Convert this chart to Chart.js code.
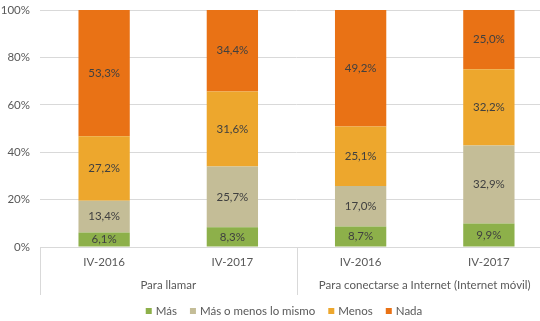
<!DOCTYPE html>
<html lang="es">
<head>
  <meta charset="UTF-8" />
  <title>Uso del móvil</title>
  <style>
    html, body { margin: 0; padding: 0; background: #fff; overflow: hidden; }
    #wrap { width: 568px; height: 321px; }
  </style>
</head>
<body>
  <div id="wrap"><canvas id="myChart"></canvas></div>

  <script src="https://cdn.jsdelivr.net/npm/chart.js"></script>
  <script>
    // Data
    const periods = ["IV-2016", "IV-2017", "IV-2016", "IV-2017"];
    const groups = ["Para llamar", "Para conectarse a Internet (Internet móvil)"];
    const groupSizes = [2, 2];
    const mas = [6.1, 8.3, 8.7, 9.9];
    const masMenos = [13.4, 25.7, 17.0, 32.9];
    const menos = [27.2, 31.6, 25.1, 32.2];
    const nada = [53.3, 34.4, 49.2, 25.0];
    const yTicks = [0, 20, 40, 60, 80, 100];

    const FONT = "Lato, sans-serif";
    const SIZE = 11.5;
    const TEXT = "#595959";
    const LINE = "#d9d9d9";

    const fmt = (v) => v.toFixed(1).replace(".", ",") + "%";

    // Value labels in the middle of each segment
    const valueLabels = {
      id: "valueLabels",
      afterDatasetsDraw(chart) {
        const ctx = chart.ctx;
        ctx.save();
        ctx.font = SIZE + "px " + FONT;
        ctx.fillStyle = "#404040";
        ctx.textAlign = "center";
        ctx.textBaseline = "middle";
        chart.data.datasets.forEach((ds, i) => {
          chart.getDatasetMeta(i).data.forEach((bar, j) => {
            ctx.fillText(fmt(ds.data[j]), bar.x, (bar.y + bar.base) / 2);
          });
        });
        ctx.restore();
      }
    };

    // Second level of the category axis with separators
    const groupAxis = {
      id: "groupAxis",
      afterDraw(chart) {
        const x = chart.scales.x;
        const ctx = chart.ctx;
        const top = chart.chartArea.bottom;
        const step = x.getPixelForValue(1) - x.getPixelForValue(0);
        ctx.save();
        ctx.strokeStyle = LINE;
        ctx.lineWidth = 1;
        ctx.font = SIZE + "px " + FONT;
        ctx.fillStyle = TEXT;
        ctx.textAlign = "center";
        ctx.textBaseline = "middle";
        let idx = 0;
        groups.forEach((g, k) => {
          const left = x.getPixelForValue(idx) - step / 2;
          const right = x.getPixelForValue(idx + groupSizes[k] - 1) + step / 2;
          [left, right].forEach((px) => {
            const p = Math.round(px) + 0.5;
            ctx.beginPath();
            ctx.moveTo(p, top);
            ctx.lineTo(p, top + 48);
            ctx.stroke();
          });
          ctx.fillText(g, (left + right) / 2, top + 38);
          idx += groupSizes[k];
        });
        ctx.restore();
      }
    };

    // Legend drawn under the axis
    const bottomLegend = {
      id: "bottomLegend",
      afterDraw(chart) {
        const ctx = chart.ctx;
        const box = 6, gap = 4, space = 13;
        ctx.save();
        ctx.font = SIZE + "px " + FONT;
        ctx.textBaseline = "middle";
        const items = chart.data.datasets.map((ds) => ({
          text: ds.label, color: ds.backgroundColor, w: ctx.measureText(ds.label).width
        }));
        const total = items.reduce((s, it) => s + box + gap + it.w, 0) + space * (items.length - 1);
        let cx = chart.width / 2 - total / 2;
        const cy = chart.height - 10;
        items.forEach((it) => {
          ctx.fillStyle = it.color;
          ctx.fillRect(cx, cy - box / 2, box, box);
          ctx.fillStyle = TEXT;
          ctx.fillText(it.text, cx + box + gap, cy);
          cx += box + gap + it.w + space;
        });
        ctx.restore();
      }
    };

    const ctx = document.getElementById("myChart").getContext("2d");
    new Chart(ctx, {
      type: "bar",
      data: {
        labels: periods,
        datasets: [
          { label: "Más", data: mas, backgroundColor: "#8db04a" },
          { label: "Más o menos lo mismo", data: masMenos, backgroundColor: "#c4bd97" },
          { label: "Menos", data: menos, backgroundColor: "#eda72d" },
          { label: "Nada", data: nada, backgroundColor: "#e97215" }
        ]
      },
      options: {
        responsive: true,
        maintainAspectRatio: false,
        animation: false,
        layout: { padding: { top: 10, right: 15, left: 0, bottom: 26 } },
        datasets: {
          bar: { barPercentage: 0.4, categoryPercentage: 1 }
        },
        plugins: {
          tooltip: { enabled: false },
          legend: { display: false }
        },
        scales: {
          x: {
            stacked: true,
            grid: { display: false, drawTicks: false },
            border: { display: true, color: LINE },
            ticks: { color: TEXT, padding: 8, font: { family: FONT, size: SIZE } },
            afterFit(scale) { scale.height = 48; scale.paddingLeft = 0; scale.paddingRight = 0; }
          },
          y: {
            stacked: true,
            min: 0,
            max: 100,
            afterBuildTicks(scale) { scale.ticks = yTicks.map((v) => ({ value: v })); },
            grid: { color: LINE, drawTicks: false },
            border: { display: false },
            ticks: {
              color: TEXT,
              padding: 10,
              font: { family: FONT, size: SIZE },
              callback: (v) => v + "%"
            },
            afterFit(scale) { scale.width = 40; scale.paddingTop = 0; scale.paddingBottom = 0; }
          }
        }
      },
      plugins: [valueLabels, groupAxis, bottomLegend]
    });
  </script>
</body>
</html>
